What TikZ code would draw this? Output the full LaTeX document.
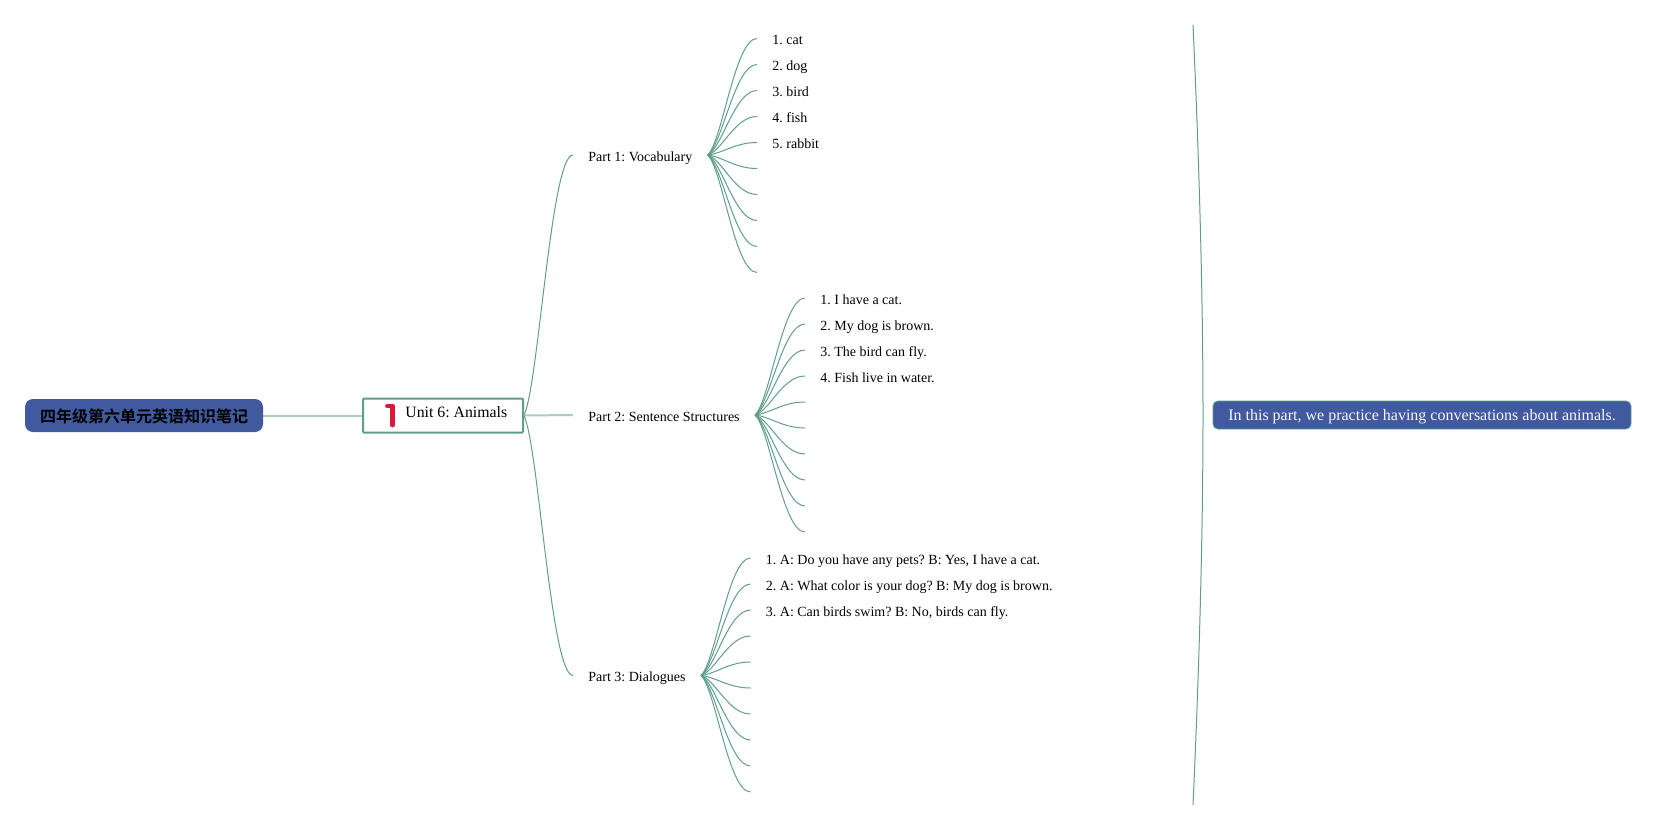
\documentclass[tikz,border=0pt]{standalone}
\usepackage{fontspec}
\setmainfont{Liberation Serif}
\newfontfamily\cjkbold{Noto Sans CJK SC Bold}
\usetikzlibrary{calc}
\frenchspacing
\definecolor{linkteal}{HTML}{5F9E8A}
\definecolor{palelink}{HTML}{A6CFC2}
\definecolor{rootblue}{HTML}{40599F}
\definecolor{iconred}{HTML}{D9183B}
\tikzset{
  spray/.style={to path={.. controls ($(\tikztostart)!0.12!(\tikztotarget) + 0.18*(\tikztotarget |- \tikztostart) - 0.18*(\tikztostart)$) and ($(\tikztostart |- \tikztotarget)!0.55!(\tikztotarget)$) .. (\tikztotarget)}},
  link/.style={draw=linkteal, line width=0.5pt},
  itemtext/.style={anchor=west, inner xsep=7.5pt, inner ysep=0pt, text height=7.5pt, text depth=1.5pt, font=\fontsize{7}{8}\selectfont},
}
\begin{document}
\begin{tikzpicture}[x=0.5pt,y=-0.5pt]
\useasboundingbox (0,0) rectangle (1676,830);
% Root and unit boxes
\node[fill=rootblue, rounded corners=4pt, minimum width=119pt, minimum height=16.5pt, inner sep=0pt, text height=8pt, text depth=0.8pt, font=\cjkbold\fontsize{8}{9}\selectfont] (root) at (144,415.5) {四年级第六单元英语知识笔记};
\node[draw=linkteal, line width=1pt, fill=white, rounded corners=0.5pt, minimum width=80pt, minimum height=17pt, inner sep=0pt] (unit) at (443,415.5) {};
\node[font=\fontsize{7.9}{9}\selectfont, anchor=west, inner sep=0pt] (unittext) at (405,412) {Unit 6: Animals};
\draw[iconred, line width=2.4pt, line join=round, line cap=round] (387.5,406) -- (392.5,406) -- (392.5,425); % Red figure one
\draw[palelink, line width=1pt] (root.east) -- (unit.west);
% Part labels
\node[itemtext] (part1) at (573,155) {Part 1: Vocabulary};
\node[itemtext] (part2) at (573,415) {Part 2: Sentence Structures};
\node[itemtext] (part3) at (573,675.5) {Part 3: Dialogues};
% Branches from the unit box to the parts
\draw[link, spray] (unit.east) to (part1.west);
\draw[palelink, line width=1pt] (unit.east) -- (part2.west);
\draw[link, spray] (unit.east) to (part3.west);
% Vocabulary items
\foreach \i/\t in {1/1. cat, 2/2. dog, 3/3. bird, 4/4. fish, 5/5. rabbit, 6/, 7/, 8/, 9/, 10/} {
  \node[itemtext] (voc\i) at (757,{38.5+26*(\i-1)}) {\t};
  \draw[link, spray] (part1.east) to (voc\i.west);
}
% Sentence items
\foreach \i/\t in {1/1. I have a cat., 2/2. My dog is brown., 3/3. The bird can fly., 4/4. Fish live in water., 5/, 6/, 7/, 8/, 9/, 10/} {
  \node[itemtext] (sen\i) at (805,{298+26*(\i-1)}) {\t};
  \draw[link, spray] (part2.east) to (sen\i.west);
}
% Dialogue items
\foreach \i/\t in {1/{1. A: Do you have any pets? B: Yes, I have a cat.}, 2/2. A: What color is your dog? B: My dog is brown., 3/{3. A: Can birds swim? B: No, birds can fly.}, 4/, 5/, 6/, 7/, 8/, 9/, 10/} {
  \node[itemtext] (dia\i) at (750.5,{558+26*(\i-1)}) {\t};
  \draw[link, spray] (part3.east) to (dia\i.west);
}
% Long bracket and the note beside it
\coordinate (bracetop) at (1193,25);
\coordinate (bracemid) at (1203,415);
\coordinate (bracebot) at (1193,805);
\draw[link] (bracetop) .. controls (1201,200) and (1203,330) .. (bracemid) .. controls (1203,500) and (1201,630) .. (bracebot);
\node[draw=linkteal, line width=0.4pt, fill=rootblue, text=white!95!rootblue, rounded corners=2.5pt, minimum width=209pt, minimum height=14pt, inner sep=0pt, text height=7pt, text depth=1.5pt, font=\fontsize{8}{10}\selectfont] (note) at (1422,415) {In this part, we practice having conversations about animals.};
\end{tikzpicture}
\end{document}
